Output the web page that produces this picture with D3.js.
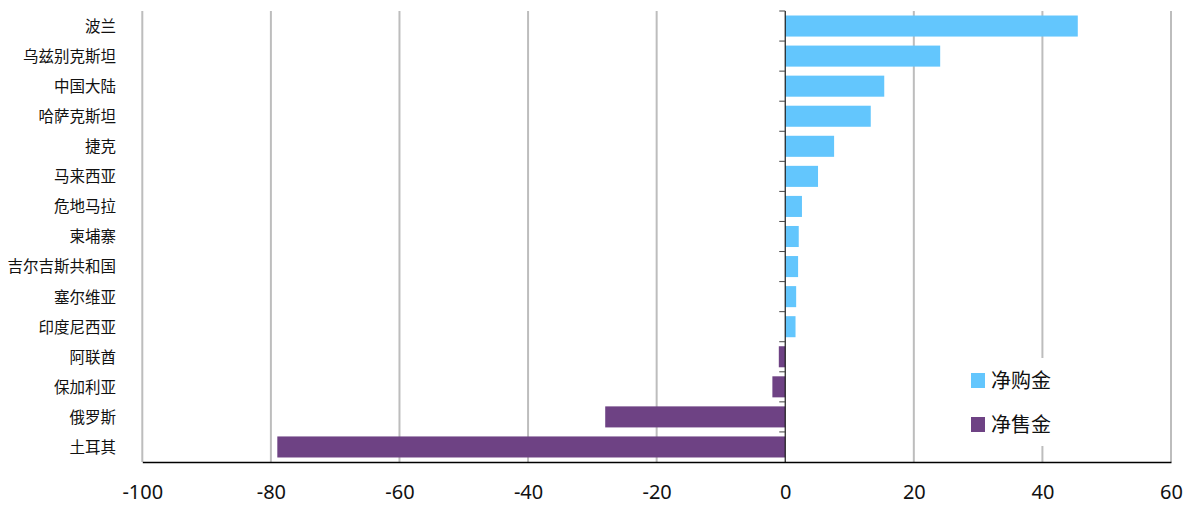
<!DOCTYPE html>
<html><head><meta charset="utf-8">
<script src="https://cdn.jsdelivr.net/npm/d3@7"></script>
<style>body{margin:0;background:#fff}svg{display:block;font-family:"Noto Sans CJK SC","Noto Sans",sans-serif}</style>
</head><body><svg id="c" width="1187" height="513"></svg>
<script>
const categories = ["波兰","乌兹别克斯坦","中国大陆","哈萨克斯坦","捷克","马来西亚","危地马拉","柬埔寨","吉尔吉斯共和国","塞尔维亚","印度尼西亚","阿联酋","保加利亚","俄罗斯","土耳其"];
const values = [45.5,24.1,15.4,13.3,7.6,5.1,2.6,2.1,2.0,1.7,1.6,-1.0,-2.0,-28.0,-79.0];
const xTicks = [-100,-80,-60,-40,-20,0,20,40,60];
const seriesNames = ["净购金","净售金"];
const colors = ["#63c6fd","#6e4284"];

const svg = d3.select("#c");
const x = d3.scaleLinear().domain([-100,60]).range([142.3,1171]);
const y = d3.scaleBand().domain(categories).range([11,462]).paddingInner(0.3).paddingOuter(0.15);
const yb = d3.scaleBand().domain(categories).range([11,462]);

// gridlines
svg.append("g").selectAll("line").data(xTicks.filter(d=>d!==0)).join("line")
  .attr("x1",d=>x(d)).attr("x2",d=>x(d)).attr("y1",11).attr("y2",462)
  .attr("stroke","#bdbdbd").attr("stroke-width",2);

// bars
svg.append("g").selectAll("rect").data(categories).join("rect")
  .attr("x",(d,i)=>x(Math.min(0,values[i])))
  .attr("width",(d,i)=>Math.abs(x(values[i])-x(0)))
  .attr("y",d=>y(d)).attr("height",y.bandwidth())
  .attr("fill",(d,i)=>values[i]>=0?colors[0]:colors[1]);

// zero axis with ticks at band boundaries
const zx = x(0);
svg.append("line").attr("x1",zx).attr("x2",zx).attr("y1",11).attr("y2",462).attr("stroke","#1a1a1a").attr("stroke-width",1.2);
svg.append("g").selectAll("line").data(categories).join("line")
  .attr("x1",zx-6).attr("x2",zx).attr("y1",d=>yb(d)).attr("y2",d=>yb(d))
  .attr("stroke","#444").attr("stroke-width",1);

// bottom axis
const xAxis = d3.axisBottom(x).tickValues(xTicks).tickSize(0).tickPadding(23).tickFormat(d=>String(d));
const gx = svg.append("g").attr("transform","translate(0,462)").call(xAxis);
gx.select(".domain").attr("stroke","#000").attr("stroke-width",1.5);
gx.selectAll("text").attr("font-size",20).attr("fill","#111").attr("font-family","'Noto Sans','Open Sans',sans-serif");

// category labels
svg.append("g").selectAll("text").data(categories).join("text")
  .attr("x",116).attr("y",d=>yb(d)+yb.bandwidth()/2).attr("dy","0.38em")
  .attr("text-anchor","end").attr("font-size",15.5).attr("fill","#111").text(d=>d);

// legend
const lg = svg.append("g");
lg.append("rect").attr("x",965).attr("y",358).attr("width",92).attr("height",88).attr("fill","#fff");
seriesNames.forEach((n,i)=>{
  lg.append("rect").attr("x",971).attr("y",373+i*44).attr("width",14).attr("height",15).attr("fill",colors[i]);
  lg.append("text").attr("x",991).attr("y",381+i*44).attr("dy","0.36em").attr("font-size",20).attr("fill","#111").text(n);
});
</script></body></html>
